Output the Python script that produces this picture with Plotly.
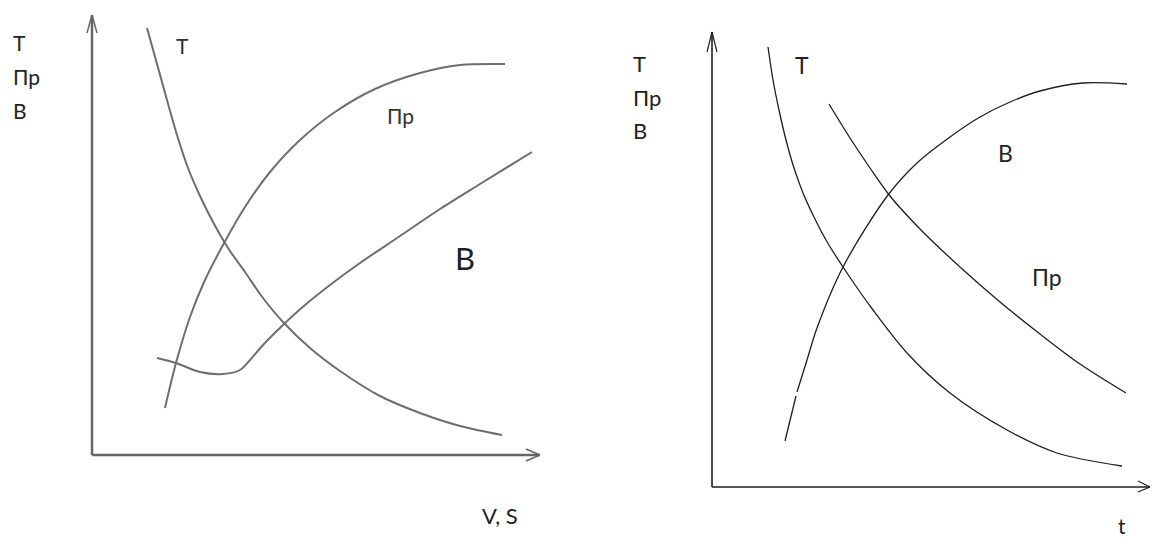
import plotly.graph_objects as go

W, H = 1155, 539

# ---------------- data (schematic units) ----------------
# Left panel: T, Пр, В versus V, S
left_T_x = [5.5, 6.5, 7.5, 8.5, 9.6, 10.8, 12.1, 13.6, 15.3, 17.1, 19.1, 21.8, 24.8, 28.8, 32.8, 36.8, 41.0]
left_T_y = [42.7, 39.1, 35.5, 32.0, 28.7, 25.9, 23.3, 20.7, 18.3, 15.7, 13.3, 10.7, 8.4, 5.9, 4.2, 2.9, 2.0]

left_Pr_x = [7.3, 8.4, 9.8, 11.3, 13.1, 15.3, 17.8, 20.8, 24.3, 28.3, 32.8, 36.8, 41.3]
left_Pr_y = [4.7, 9.2, 13.8, 17.5, 21.0, 24.8, 28.3, 31.5, 34.3, 36.6, 38.2, 39.0, 39.1]

left_B_x = [6.5, 8.4, 10.8, 13.1, 14.8, 15.8, 17.1, 19.1, 21.3, 23.8, 26.8, 30.8, 34.8, 38.8, 44.0]
left_B_y = [9.7, 9.2, 8.3, 8.1, 8.5, 9.5, 11.0, 13.0, 15.0, 17.0, 19.2, 21.9, 24.6, 27.1, 30.3]

# Right panel: T, Пр, В versus t
right_T_x = [5.6, 6.1, 6.7, 7.4, 8.2, 9.1, 10.1, 11.4, 13.1, 16.1, 19.5, 23.8, 29.5, 34.5, 41.0]
right_T_y = [44.0, 40.7, 37.7, 34.7, 31.9, 29.4, 27.2, 24.7, 22.0, 17.7, 13.4, 9.4, 5.7, 3.4, 2.1]

right_Pr_x = [11.7, 13.8, 15.8, 17.8, 20.8, 24.8, 28.8, 32.8, 36.8, 41.4]
right_Pr_y = [38.3, 34.9, 31.9, 29.1, 25.8, 22.0, 18.5, 15.3, 12.3, 9.4]

right_B_x = [7.3, 8.4, None, 8.5, 9.5, 10.5, 13.1, 17.6, 20.5, 23.8, 26.8, 29.8, 32.8, 37.1, 41.5]
right_B_y = [4.6, 9.1, None, 9.5, 12.7, 15.9, 22.0, 29.2, 32.4, 35.0, 37.0, 38.5, 39.6, 40.4, 40.3]

# axis extents (schematic units)
left_x_end, left_y_end = 44.8, 44.0
right_x_end, right_y_end = 43.8, 45.5

axis_side_labels = ["T", "Пр", "В"]

# ---------------- layout helpers ----------------
PX = 10.0  # pixels per unit
L_O = (92, 455)
R_O = (712, 487)
L_XR, L_YR = [-2, 47], [-2, 45]
R_XR, R_YR = [-2, 44], [-2, 46]


def xdom(o, r):
    return [(o[0] + PX * r[0]) / W, (o[0] + PX * r[1]) / W]


def ydom(o, r):
    return [1 - (o[1] - PX * r[0]) / H, 1 - (o[1] - PX * r[1]) / H]


fig = go.Figure()
GRAY = "#6e6e6e"
BLACK = "#1e1e1e"

for xs, ys in [(left_T_x, left_T_y), (left_Pr_x, left_Pr_y), (left_B_x, left_B_y)]:
    fig.add_trace(go.Scatter(x=xs, y=ys, mode="lines", xaxis="x", yaxis="y",
                             line=dict(color=GRAY, width=2, shape="spline", smoothing=0.9),
                             hoverinfo="skip", showlegend=False))

for xs, ys in [(right_T_x, right_T_y), (right_Pr_x, right_Pr_y), (right_B_x, right_B_y)]:
    fig.add_trace(go.Scatter(x=xs, y=ys, mode="lines", xaxis="x2", yaxis="y2",
                             line=dict(color=BLACK, width=1.3, shape="spline", smoothing=0.9),
                             hoverinfo="skip", showlegend=False, connectgaps=False))

ax_common = dict(visible=False, showgrid=False, zeroline=False, fixedrange=True)
fig.update_layout(
    width=W, height=H,
    margin=dict(l=0, r=0, t=0, b=0, pad=0),
    paper_bgcolor="white", plot_bgcolor="rgba(0,0,0,0)",
    xaxis=dict(domain=xdom(L_O, L_XR), range=L_XR, anchor="y", **ax_common),
    yaxis=dict(domain=ydom(L_O, L_YR), range=L_YR, anchor="x", **ax_common),
    xaxis2=dict(domain=xdom(R_O, R_XR), range=R_XR, anchor="y2", **ax_common),
    yaxis2=dict(domain=ydom(R_O, R_YR), range=R_YR, anchor="x2", **ax_common),
    font=dict(family="Lato, 'Open Sans', sans-serif", color="#222222"),
)

shapes = []


def line(xr, yr, x0, y0, x1, y1, color, width):
    shapes.append(dict(type="line", xref=xr, yref=yr, x0=x0, y0=y0, x1=x1, y1=y1,
                       line=dict(color=color, width=width)))


# left axes with arrows
AXL = "#666666"
line("x", "y", 0, 0, 0, left_y_end, AXL, 2.5)
line("x", "y", 0, left_y_end, -0.5, left_y_end - 1.8, AXL, 1.5)
line("x", "y", 0, left_y_end, 0.5, left_y_end - 1.8, AXL, 1.5)
line("x", "y", 0, 0, left_x_end, 0, AXL, 2.5)
line("x", "y", left_x_end, 0, left_x_end - 1.4, 0.6, AXL, 1.5)
line("x", "y", left_x_end, 0, left_x_end - 1.4, -0.6, AXL, 1.5)

# right axes with arrows
line("x2", "y2", 0, 0, 0, right_y_end, BLACK, 1.6)
line("x2", "y2", 0, right_y_end, -0.5, right_y_end - 2.0, BLACK, 1.2)
line("x2", "y2", 0, right_y_end, 0.5, right_y_end - 2.0, BLACK, 1.2)
line("x2", "y2", 0, 0, right_x_end, 0, BLACK, 1.6)
line("x2", "y2", right_x_end, 0, right_x_end - 1.2, 0.6, BLACK, 1.2)
line("x2", "y2", right_x_end, 0, right_x_end - 1.2, -0.5, BLACK, 1.2)
fig.update_layout(shapes=shapes)

ann = []


def text(xr, yr, x, y, s, size=22, xanchor="center", color="#222222"):
    ann.append(dict(xref=xr, yref=yr, x=x, y=y, text=s, showarrow=False,
                    xanchor=xanchor, yanchor="middle",
                    font=dict(size=size, color=color)))


def ptext(px, py, s, size=22, xanchor="center"):
    text("paper", "paper", px / W, 1 - py / H, s, size=size, xanchor=xanchor)


# left side labels
for lab, py in zip(axis_side_labels, [43, 77, 110]):
    ptext(11, py, lab, size=21, xanchor="left")
text("x", "y", 9.0, 41.0, "T", size=21, color="#2a2f38")
text("x", "y", 30.8, 34.0, "Пр", size=21, color="#333333")
text("x", "y", 37.3, 19.7, "В", size=31)
ptext(500, 515, "V, S", size=22)

# right side labels
for lab, py in zip(axis_side_labels, [63, 97, 130]):
    ptext(631, py, lab, size=22, xanchor="left")
text("x2", "y2", 9.0, 42.2, "T", size=23)
text("x2", "y2", 29.3, 33.4, "В", size=23)
text("x2", "y2", 33.5, 21.0, "Пр", size=23)
ptext(1122, 525, "t", size=21)
fig.update_layout(annotations=ann)

fig.write_html("out.html", config={"displayModeBar": False},
               post_script="document.body.style.margin='0px';document.body.style.overflow='hidden';")
